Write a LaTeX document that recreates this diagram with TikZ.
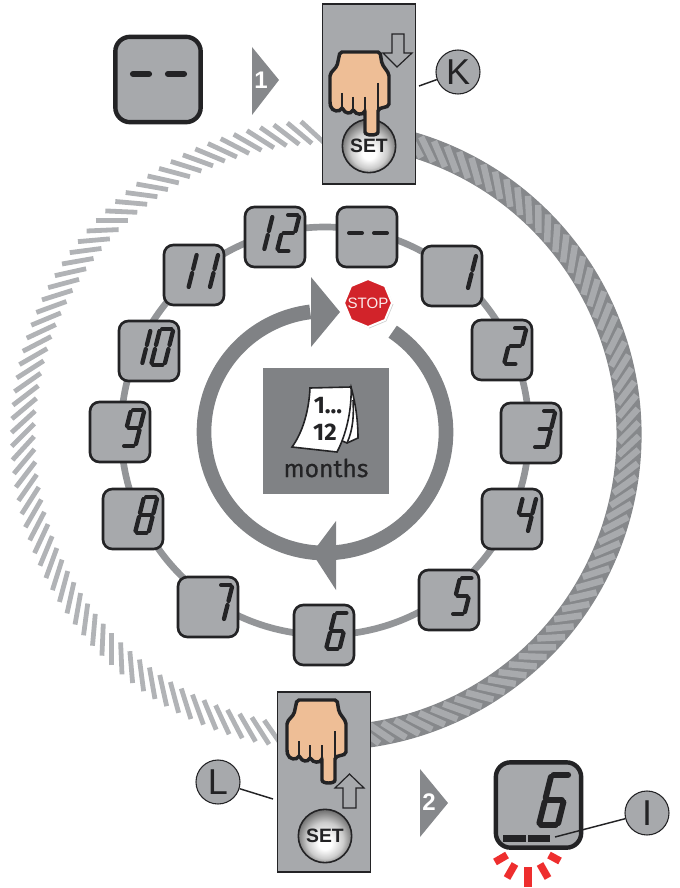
\documentclass[tikz,border=0pt]{standalone}
\usepackage{fontspec}
\usepackage{tikz}
\usetikzlibrary{shapes.geometric, shadows}
\setmainfont{Liberation Sans}
\newfontfamily\calfont{Fira Sans}
\newfontfamily\monthfont[FakeBold=0.6]{Fira Sans}
\definecolor{lcd}{HTML}{A7A9AC}
\definecolor{inkdark}{HTML}{232325}
\definecolor{flowgrey}{HTML}{808285}
\definecolor{ringgrey}{HTML}{939598}
\definecolor{banddark}{HTML}{86888B}
\definecolor{bandlight}{HTML}{A8AAAD}
\definecolor{stripegrey}{HTML}{B1B3B6}
\definecolor{skin}{HTML}{EEBE96}
\definecolor{stopred}{HTML}{D2232A}
\definecolor{blinkred}{HTML}{EE2E2E}
\pgfdeclareradialshading{setball}{\pgfpoint{0bp}{-8bp}}{color(0bp)=(white); color(6bp)=(white); color(17bp)=(black!20); color(26bp)=(black!55); color(34bp)=(black!72)}
% segment lists for the display digits
\def\digone{tr/mr,mr/br}
\def\digtwo{tl/tr,tr/mr,ml/mr,ml/bl,bl/br}
\def\digthree{tl/tr,tr/mr,ml/mr,mr/br,bl/br}
\def\digfour{tl/ml,ml/mr,tr/mr,mr/br}
\def\digfive{tl/tr,tl/ml,ml/mr,mr/br,bl/br}
\def\digsix{tl/tr,tl/ml,ml/mr,ml/bl,mr/br,bl/br}
\def\digseven{tl/tr,tr/mr,mr/br}
\def\digeight{tl/tr,tl/ml,tr/mr,ml/mr,ml/bl,mr/br,bl/br}
\def\dignine{tl/tr,tl/ml,tr/mr,ml/mr,mr/br,bl/br}
\def\digzero{tl/tr,tl/ml,tr/mr,ml/bl,mr/br,bl/br}

\tikzset{
  seg/.style={draw=inkdark, line width=3.2pt, line cap=round, shorten >=1.6pt, shorten <=1.6pt},
  digit/.pic={
    \coordinate (tl) at (11,-22); \coordinate (tr) at (24.5,-22);
    \coordinate (ml) at (6.5,-4); \coordinate (mr) at (20,-4);
    \coordinate (bl) at (2,14);   \coordinate (br) at (15.5,14);
    \foreach \p/\q in #1 { \draw[seg] (\p) -- (\q); }
  },
  dashes/.pic={
    \draw[seg] (-20,-4) -- (-3,-4);
    \draw[seg] (5,-4) -- (22,-4);
  },
  hand/.pic={
    \draw[draw=inkdark, fill=skin, line width=2.6pt, rounded corners=1.5pt]
      (10,0) -- (50,0) -- (52,12) -- (59,22) -- (59,54) -- (48,57) -- (48,78)
      .. controls (48,84) and (35,84) .. (35,78) -- (35,58)
      .. controls (33,63) and (26,63) .. (23,57)
      .. controls (21,62) and (15,62) .. (12,55)
      .. controls (10,60) and (2,60) .. (0,52) -- (0,22) -- (7,14) -- cycle;
    \draw[draw=inkdark, line width=2pt] (12,41) -- (12,56);
    \draw[draw=inkdark, line width=2pt] (23,45) -- (23,58);
    \draw[draw=inkdark, line width=2pt] (35,45) -- (35,60);
    \draw[draw=inkdark, line width=2pt] (48,31) -- (48,60);
  }
}

\begin{document}
\begin{tikzpicture}[
  x=0.75pt, y=-0.75pt,
  disp/.style={rectangle, rounded corners=7pt, draw=inkdark, line width=2pt,
               fill=lcd, minimum size=45pt, inner sep=0pt},
  bigdisp/.style={disp, rounded corners=11pt, line width=3.3pt, minimum size=64pt},
  keypanel/.style={rectangle, draw=inkdark, line width=0.8pt, fill=lcd,
                   minimum width=70pt, minimum height=135pt, inner sep=0pt},
  setbtn/.style={circle, draw=inkdark, line width=1.2pt, shading=setball, minimum size=40pt,
                 inner sep=0pt, font=\fontsize{14.5}{15}\selectfont\bfseries\color{inkdark}},
  tag/.style={circle, draw=inkdark, line width=0.8pt, fill=lcd, minimum size=33pt,
              inner sep=0pt, font=\fontsize{27}{28}\selectfont\color{inkdark}},
  leader/.style={draw=inkdark, line width=1.1pt},
  stepmark/.style={fill=banddark},
  stepnum/.style={font=\fontsize{18}{18}\selectfont\bfseries\color{white}, inner sep=0pt},
  hollow/.style={draw=inkdark, line width=0.9pt, fill=lcd},
  blink/.style={draw=blinkred, line width=5.6pt}
]
  \useasboundingbox (0,0) rectangle (679,888);
  \coordinate (bandc) at (326,435);
  \coordinate (ringc) at (325,431);
  \coordinate (flowc) at (325,432);

  % outer band, hatched left and right
  \foreach \a in {100,102.5,...,268} {
    \draw[stripegrey, line width=3.6pt] (bandc) ++(\a:303) ++(\a-45:16) -- ++(\a-45:-32);
  }
  \draw[banddark, line width=18.8pt] (bandc) ++(-78:303) arc[start angle=-78, end angle=85, radius=303];
  \foreach \a in {-78,-75.5,...,85} {
    \draw[bandlight, line width=4.8pt] (bandc) ++(\a:303) ++(\a-45:14) -- ++(\a-45:-28);
  }

  % ring of displays
  \draw[ringgrey, line width=5pt] (ringc) circle (204);
  \foreach \nm/\px/\py in {dd/367/237, d1/452/276, d2/502/350, d3/531/433, d4/512/519, d5/449/600,
                           d6/324/635, d7/208/607, d8/133/519, d9/120/432, d10/149/351, d11/194/275, d12/275/237} {
    \node[disp] (\nm) at (\px,\py) {};
  }
  \pic at (dd) {dashes};
  \pic at (d1) {digit=\digone};
  \pic at (d2) {digit=\digtwo};
  \pic at (d3) {digit=\digthree};
  \pic at (d4) {digit=\digfour};
  \pic at (d5) {digit=\digfive};
  \pic at (d6) {digit=\digsix};
  \pic at (d7) {digit=\digseven};
  \pic at (d8) {digit=\digeight};
  \pic at (d9) {digit=\dignine};
  \pic at (d10) {digit=\digzero};
  \pic[xshift=-17pt] at (d10) {digit=\digone};
  \pic at (d11) {digit=\digone};
  \pic[xshift=-16pt] at (d11) {digit=\digone};
  \pic at (d12) {digit=\digtwo};
  \pic[xshift=-20pt] at (d12) {digit=\digone};

  % inner flow arrow
  \draw[flowgrey, line width=11pt] (flowc) ++(-56:121) arc[start angle=-56, end angle=263, radius=121];
  \fill[flowgrey] (311,277) -- (340,312) -- (311,347) -- cycle;
  \fill[flowgrey] (336,521) -- (312,553) -- (336,590) -- cycle;
  \node[regular polygon, regular polygon sides=8, shape border rotate=22.5, draw=white, line width=1.5pt,
        fill=stopred, minimum size=36pt, inner sep=0pt, drop shadow={shadow xshift=1pt, shadow yshift=-1pt, opacity=0.4}] (stop) at (368,303) {};
  \node[font=\fontsize{11.3}{12}\selectfont\color{white!90!stopred}, inner sep=0pt] (stoptext) at (stop) {STOP};

  % calendar
  \node[rectangle, fill=flowgrey, minimum size=94.5pt, inner sep=0pt] (panel) at (326,431) {};
  \draw[inkdark, line width=1.2pt, fill=white] (351,387) .. controls (356,405) and (358,422) .. (358,438)
    -- (347,443) -- (340,440) -- cycle;
  \draw[inkdark, line width=1.2pt] (353,400) .. controls (354,415) and (353,430) .. (347,443);
  \draw[inkdark, line width=1.2pt, fill=white] (310,388) -- (351,387) .. controls (352,410) and (346,435) .. (337,452)
    -- (292,447) .. controls (303,432) and (309,410) .. (310,388) -- cycle;
  \node[font=\calfont\fontsize{18}{18}\selectfont\bfseries\color{inkdark}, inner sep=0pt] (calone) at (328,406) {1...};
  \node[font=\calfont\fontsize{18}{18}\selectfont\bfseries\color{inkdark}, inner sep=0pt] (caltwelve) at (325,432) {12};
  \node[font=\monthfont\fontsize{18.5}{20}\selectfont\color{inkdark}, inner sep=0pt] (calname) at (326,468) {months};

  % start display
  \node[bigdisp] (startdisp) at (158,79.5) {};
  \draw[seg, line width=4.6pt, shorten >=0pt, shorten <=0pt] (133,74) -- (149,74);
  \draw[seg, line width=4.6pt, shorten >=0pt, shorten <=0pt] (168,74) -- (184,74);
  \fill[stepmark] (252,47) -- (279,80) -- (252,115) -- cycle;
  \node[stepnum] (stepone) at (261,80) {1};

  % key K
  \node[keypanel] (keybox) at (369,94) {};
  \node[setbtn] (keyset) at (369,146) {SET};
  \pic at (330,52) {hand};
  \draw[hollow] (392,34) -- (404,34) -- (404,53) -- (412,53) -- (397,67) -- (383,53) -- (392,53) -- cycle;
  \node[tag] (keytag) at (458,72) {K};
  \coordinate (keytip) at (419,86);
  \draw[leader] (keytag) -- (keytip);

  % key L
  \node[keypanel] (lockbox) at (324,782) {};
  \node[setbtn] (lockset) at (325,836) {SET};
  \pic at (287,700) {hand};
  \draw[hollow] (343,808) -- (356,808) -- (356,788) -- (364,788) -- (349.5,774) -- (335,788) -- (343,788) -- cycle;
  \node[tag] (locktag) at (218,782) {L};
  \coordinate (locktip) at (273,799);
  \draw[leader] (locktag) -- (locktip);

  % end display
  \fill[stepmark] (420,769) -- (448,803) -- (420,837) -- cycle;
  \node[stepnum] (steptwo) at (429,802) {2};
  \node[bigdisp] (enddisp) at (538.5,805) {};
  \pic[scale=1.4, seg/.append style={line width=4.4pt}] at (536,805.6) {digit=\digsix};
  \fill[inkdark] (503,835) rectangle (526,842);
  \fill[inkdark] (527.5,835) rectangle (550,842);
  \node[tag] (endtag) at (647,813) {I};
  \coordinate (endtip) at (555,837);
  \draw[leader] (endtag) -- (endtip);
  \draw[blink] (528,867) -- (528,887);
  \draw[blink] (515,864) -- (507,878);
  \draw[blink] (540,864) -- (548,878);
  \draw[blink] (507,855) -- (495,862);
  \draw[blink] (549,855) -- (560,861);
\end{tikzpicture}
\end{document}
